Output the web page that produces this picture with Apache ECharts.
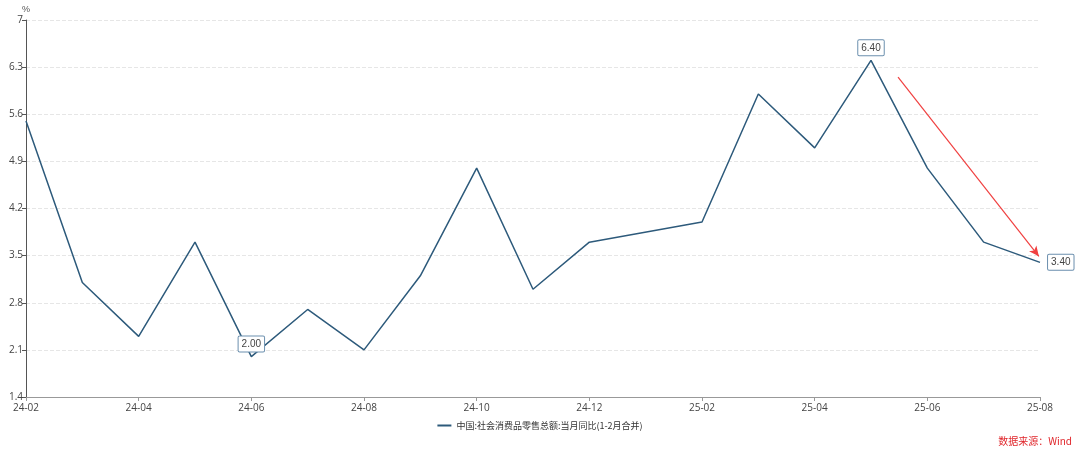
<!DOCTYPE html>
<html><head><meta charset="utf-8">
<script src="https://cdn.jsdelivr.net/npm/echarts@6/dist/echarts.min.js"></script>
<style>html,body{margin:0;padding:0;background:#fff}#c{width:1080px;height:452px}</style>
</head><body><div id="c"></div>
<script>
const categories = ['24-02','24-03','24-04','24-05','24-06','24-07','24-08','24-09','24-10','24-11','24-12','25-01','25-02','25-03','25-04','25-05','25-06','25-07','25-08'];
const values = [5.5,3.1,2.3,3.7,2.0,2.7,2.1,3.2,4.8,3.0,3.7,null,4.0,5.9,5.1,6.4,4.8,3.7,3.4];
const yTicks = {min:1.4, max:7, interval:0.7};
const seriesName = '中国:社会消费品零售总额:当月同比(1-2月合并)';
const labelled = {'24-06':'top', '25-05':'top', '25-08':'right'};
const arrowFrom = [15.48, 6.15];
const arrowTo = [17.98, 3.49];

const lineColor = '#2d5a7b';
const data = values.map((v,i)=>{
  const pos = labelled[categories[i]];
  if(!pos || v===null) return v;
  return {value:v, label:{show:true, position:pos, distance: pos==='right'?8:5,
    formatter:(p)=>Number(p.value).toFixed(2), color:'#444', fontSize:10,
    backgroundColor:'#fff', borderColor:'#6b8fae', borderWidth:1, borderRadius:1,
    padding:[3,3,2,3]}};
});

const chart = echarts.init(document.getElementById('c'));
chart.setOption({
  animation:false,
  grid:{left:26, right:40, top:20, bottom:55},
  legend:{bottom:17, left:'center', itemWidth:14, itemHeight:2, icon:'rect',
    textStyle:{fontSize:9, color:'#333', fontFamily:'Noto Sans CJK SC'}, data:[seriesName]},
  graphic:[{type:'text', right:8, bottom:6, style:{text:'数据来源：Wind', fill:'#e0262b', fontSize:10, fontFamily:'Noto Sans CJK SC'}}],
  xAxis:{type:'category', data:categories, boundaryGap:false,
    axisLine:{lineStyle:{color:'#999'}},
    axisTick:{interval:1, alignWithLabel:true, length:4, lineStyle:{color:'#999'}},
    axisLabel:{interval:1, color:'#444', fontSize:10, margin:6, fontFamily:'Open Sans'}},
  yAxis:{type:'value', min:yTicks.min, max:yTicks.max, interval:yTicks.interval,
    name:'%', nameGap:6, nameTextStyle:{color:'#555', fontSize:9, align:'center'},
    axisLine:{show:true, lineStyle:{color:'#555'}},
    axisTick:{show:true, length:4, lineStyle:{color:'#555'}},
    axisLabel:{color:'#444', fontSize:10, margin:3, fontFamily:'Open Sans',
      formatter:(v)=>String(Math.round(v*10)/10)},
    splitLine:{lineStyle:{type:'dashed', color:'#e6e6e6'}}},
  series:[{name:seriesName, type:'line', data:data, connectNulls:true,
    showSymbol:true, symbol:'circle', symbolSize:0.1,
    lineStyle:{color:lineColor, width:1.5}, itemStyle:{color:lineColor}}]
});

function toPx(pt){
  const i0 = Math.floor(pt[0]);
  const a = chart.convertToPixel({seriesIndex:0}, [i0, pt[1]]);
  const b = chart.convertToPixel({seriesIndex:0}, [i0+1, pt[1]]);
  const f = pt[0]-i0;
  return {x: a[0] + f*(b[0]-a[0]), y: a[1]};
}
const p0 = toPx(arrowFrom), p1 = toPx(arrowTo);
chart.setOption({series:[{markLine:{silent:true, symbol:['none','arrow'], symbolSize:[7,10],
  label:{show:false}, lineStyle:{color:'#f04040', width:1.2, type:'solid'},
  data:[[p0, p1]]}}]});
</script></body></html>
